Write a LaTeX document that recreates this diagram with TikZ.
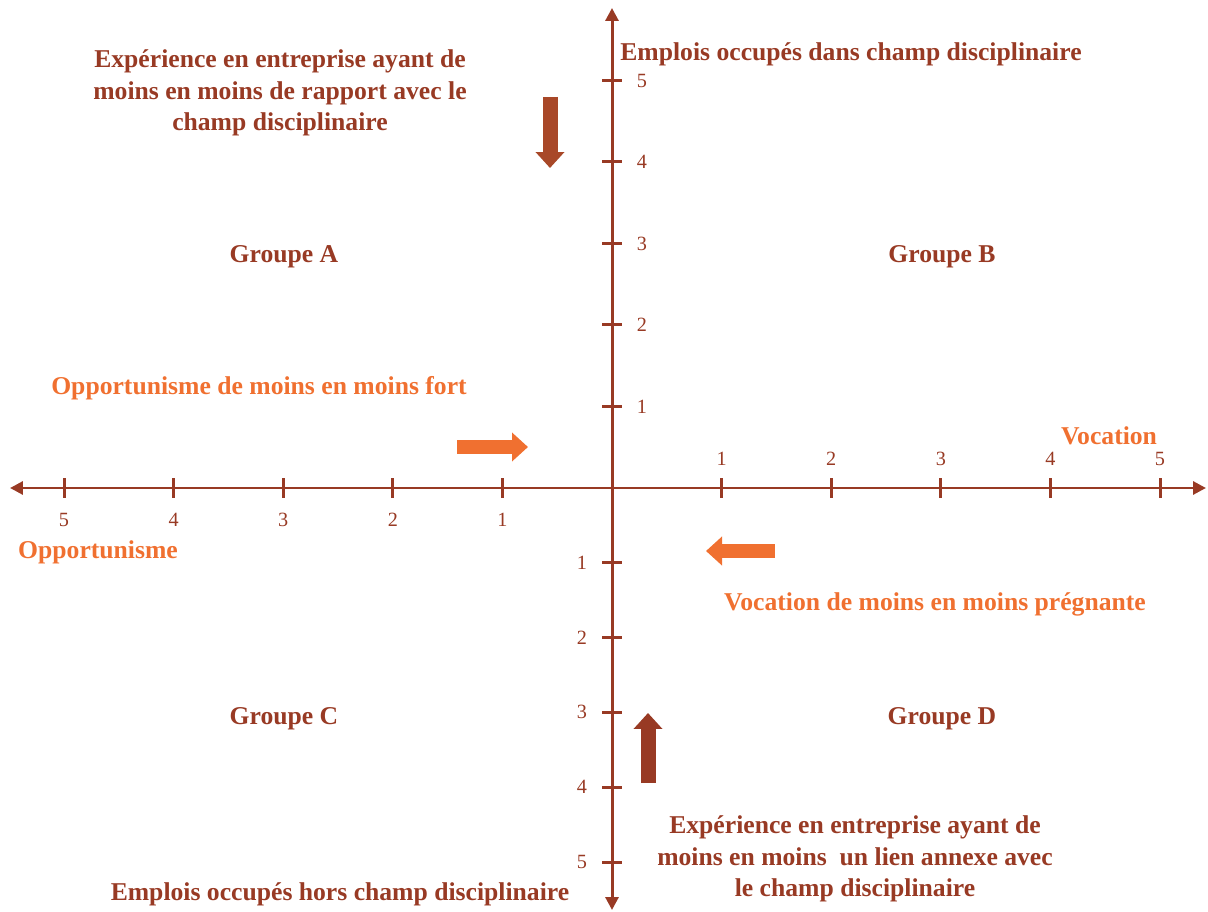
\documentclass[tikz,border=0pt]{standalone}
\usepackage{fontspec}
\setmainfont{Liberation Serif}
\usetikzlibrary{arrows.meta}
\definecolor{axisred}{RGB}{152,58,36}
\definecolor{rustred}{RGB}{168,72,40}
\definecolor{hintorange}{RGB}{240,112,48}
\tikzset{
  axis line/.style={line width=0.06cm, draw=axisred, -{Triangle[length=0.26cm,width=0.26cm]}},
  tick mark/.style={line width=0.06cm, draw=axisred},
  tick label/.style={text=axisred, font=\fontsize{11.5}{13}\selectfont},
  title/.style={text=axisred, font=\fontsize{14.6}{17.8}\selectfont\bfseries, align=center},
  hint/.style={text=hintorange, font=\fontsize{14.6}{17.8}\selectfont\bfseries},
  block arrow/.style={line width=0.3cm, -{Triangle[length=0.32cm,width=0.56cm]}}
}

\begin{document}
\begin{tikzpicture}[x=0.02cm, y=-0.02cm]
    \useasboundingbox (0,0) rectangle (1208,912);
    % axes
    \coordinate (O) at (612,488);
    \coordinate (W) at (10,488);
    \coordinate (E) at (1206,488);
    \coordinate (N) at (612,8);
    \coordinate (S) at (612,910);
    \draw[axis line] (O) -- (E);
    \draw[axis line] (O) -- (W);
    \draw[axis line] (O) -- (N);
    \draw[axis line] (O) -- (S);

    % ticks
    \foreach \i in {1,...,5} {
        \draw[tick mark] ({612+109.6*\i},478) -- ({612+109.6*\i},498);
        \node[tick label] (xr\i) at ({612+109.6*\i},459) {\i};
        \draw[tick mark] ({612-109.6*\i},478) -- ({612-109.6*\i},498);
        \node[tick label] (xl\i) at ({612-109.6*\i},520) {\i};
        \draw[tick mark] (602,{488-81.5*\i}) -- (622,{488-81.5*\i});
        \node[tick label] (yu\i) at (642,{488-81.5*\i}) {\i};
        \draw[tick mark] (602,{488+74.8*\i}) -- (622,{488+74.8*\i});
        \node[tick label] (yd\i) at (582,{488+74.8*\i}) {\i};
    }

    % quadrants
    \node[title] (GA) at (284,257) {Groupe A};
    \node[title] (GB) at (942,257) {Groupe B};
    \node[title] (GC) at (284,719) {Groupe C};
    \node[title] (GD) at (942,719) {Groupe D};

    \node[title] (top) at (851,54) {Emplois occupés dans champ disciplinaire};
    \node[title] (bottom) at (340,894) {Emplois occupés hors champ disciplinaire};
    \node[title] (expA) at (280,93) {Expérience en entreprise ayant de\\moins en moins de rapport avec le\\champ disciplinaire};
    \node[title] (expD) at (855,859) {Expérience en entreprise ayant de\\moins en moins \ un lien annexe avec\\le champ disciplinaire};

    \node[hint] (opp) at (259,388) {Opportunisme de moins en moins fort};
    \node[hint, anchor=west] (oppend) at (12,552) {Opportunisme};
    \node[hint] (voc) at (1109,436) {Vocation};
    \node[hint] (vocless) at (935,604) {Vocation de moins en moins prégnante};

    % block arrows
    \draw[block arrow, draw=rustred, fill=rustred] (550,97) -- (550,168);
    \draw[block arrow, draw=hintorange] (457,447) -- (528,447);
    \draw[block arrow, draw=hintorange] (775,551) -- (706,551);
    \draw[block arrow, draw=axisred] (648,783) -- (648,713);
\end{tikzpicture}
\end{document}
